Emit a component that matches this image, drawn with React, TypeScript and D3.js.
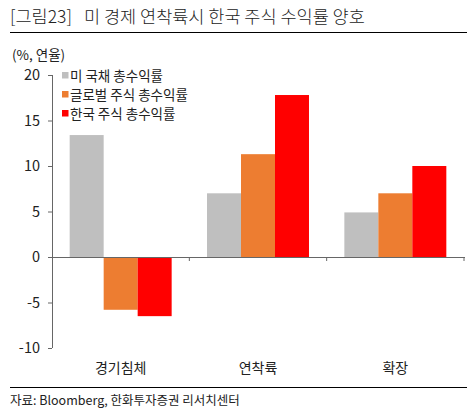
import React from "react";
import { scaleLinear, scaleBand } from "d3";

const categories = ["경기침체", "연착륙", "확장"];
const seriesNames = ["미 국채 총수익률", "글로벌 주식 총수익률", "한국 주식 총수익률"];
const treasury = [13.4, 7.0, 4.9];
const globalEq = [-5.8, 11.3, 7.0];
const koreaEq = [-6.5, 17.8, 10.0];
const yTicks = [20, 15, 10, 5, 0, -5, -10];
const colors = ["#BFBFBF", "#ED7D31", "#FF0000"];

const font = "'Noto Sans CJK KR', sans-serif";

function App() {
  const left = 52, right = 464, top = 75, bottom = 348;
  const y = scaleLinear().domain([-10, 20]).range([bottom, top]);
  const x = scaleBand().domain(categories).range([left, right]).paddingInner(0).paddingOuter(0);
  const inner = scaleBand().domain(["0", "1", "2"]).range([0, x.bandwidth()]).paddingOuter(0.52).paddingInner(0);
  const series = [treasury, globalEq, koreaEq];

  return (
    <svg width={476} height={412} style={{ position: "absolute", left: 0, top: 0, background: "#fff" }}>
      <text x={10} y={23} fontFamily={font} fontSize={17.5} fontWeight={300} fill="#222">
        <tspan>[그림23]</tspan>
        <tspan x={84}>미 경제 연착륙시 한국 주식 수익률 양호</tspan>
      </text>
      <line x1={10} x2={467} y1={32.5} y2={32.5} stroke="#000" strokeWidth={1} />

      <text x={12} y={60} fontFamily={font} fontSize={13.5} fill="#222">(%, 연율)</text>

      {/* y axis */}
      <line x1={left + 0.5} x2={left + 0.5} y1={top} y2={bottom} stroke="#666" />
      {yTicks.map((t) => (
        <g key={t}>
          <line x1={left - 4} x2={left} y1={y(t) + 0.5} y2={y(t) + 0.5} stroke="#666" />
          <text x={40} y={y(t) + 5} textAnchor="end" fontFamily={font} fontSize={14.5} fill="#222">{t}</text>
        </g>
      ))}

      {/* bars */}
      {categories.map((c, i) => (
        <g key={c}>
          {series.map((s, k) => {
            const v = s[i];
            const x0 = (x(c) as number) + (inner(String(k)) as number);
            return (
              <rect key={k} x={x0} width={inner.bandwidth()} y={y(Math.max(0, v))}
                height={Math.abs(y(v) - y(0))} fill={colors[k]} />
            );
          })}
        </g>
      ))}

      {/* x axis */}
      <line x1={left} x2={right + 1} y1={y(0) + 0.5} y2={y(0) + 0.5} stroke="#666" />
      {categories.map((c) => (
        <line key={c} x1={(x(c) as number) + x.bandwidth()} x2={(x(c) as number) + x.bandwidth()}
          y1={y(0)} y2={y(0) + 4} stroke="#666" />
      ))}
      {categories.map((c) => (
        <text key={c} x={(x(c) as number) + x.bandwidth() / 2} y={373} textAnchor="middle"
          fontFamily={font} fontSize={14} fill="#222">{c}</text>
      ))}

      {/* legend */}
      {seriesNames.map((n, k) => (
        <g key={n}>
          <rect x={62} y={72 + k * 19} width={6.5} height={6.5} fill={colors[k]} />
          <text x={70} y={80.5 + k * 19} fontFamily={font} fontSize={13.5} fill="#222">{n}</text>
        </g>
      ))}

      <line x1={10} x2={467} y1={387.5} y2={387.5} stroke="#000" strokeWidth={1} />
      <text x={10} y={405} fontFamily={font} fontSize={12.5} fill="#222">자료: Bloomberg, 한화투자증권 리서치센터</text>
    </svg>
  );
}

export default App;
